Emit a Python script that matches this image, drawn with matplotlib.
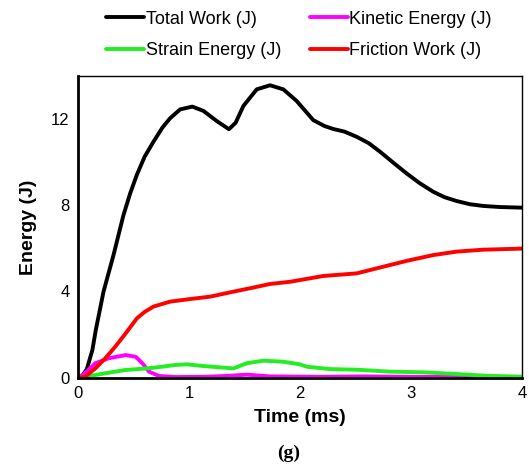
import numpy as np
import matplotlib.pyplot as plt

plt.rcParams['font.family'] = ['Liberation Sans', 'DejaVu Sans']

# time (ms) and energies (J)
t_total = [0, 0.04, 0.08, 0.13, 0.16, 0.23, 0.32, 0.41, 0.47, 0.53, 0.60, 0.68,
           0.76, 0.83, 0.92, 1.03, 1.13, 1.25, 1.36, 1.42, 1.49, 1.61, 1.73, 1.85,
           1.97, 2.12, 2.22, 2.30, 2.40, 2.51, 2.62, 2.72, 2.84, 2.96, 3.08, 3.20,
           3.30, 3.41, 3.53, 3.65, 3.80, 4.0]
total_work = [0, 0.1, 0.4, 1.29, 2.2, 3.99, 5.69, 7.55, 8.55, 9.41, 10.25, 10.95,
              11.6, 12.04, 12.45, 12.58, 12.38, 11.91, 11.53, 11.83, 12.61, 13.38, 13.57, 13.38,
              12.84, 11.95, 11.68, 11.54, 11.42, 11.18, 10.88, 10.49, 9.98, 9.48, 9.02, 8.63,
              8.38, 8.2, 8.05, 7.97, 7.92, 7.89]

t_kin = [0, 0.05, 0.095, 0.156, 0.275, 0.43, 0.52, 0.58, 0.64, 0.73, 0.88, 1.13,
         1.33, 1.52, 1.73, 2.2, 2.6, 3.0, 3.5, 4.0]
kinetic = [0, 0.15, 0.36, 0.67, 0.9, 1.05, 0.97, 0.67, 0.28, 0.08, 0.03, 0.04,
           0.08, 0.14, 0.06, 0.04, 0.06, 0.04, 0.03, 0.03]

t_strain = [0, 0.07, 0.15, 0.275, 0.43, 0.52, 0.68, 0.876, 0.98, 1.13, 1.28, 1.40,
            1.52, 1.67, 1.85, 2.0, 2.06, 2.27, 2.51, 2.81, 3.11, 3.41, 3.71, 4.0]
strain = [0, 0.05, 0.12, 0.23, 0.36, 0.39, 0.46, 0.59, 0.62, 0.54, 0.48, 0.43,
          0.67, 0.79, 0.74, 0.62, 0.51, 0.40, 0.37, 0.28, 0.25, 0.17, 0.08, 0.05]

t_fric = [0, 0.066, 0.156, 0.246, 0.336, 0.43, 0.53, 0.60, 0.68, 0.83, 1.01, 1.19,
          1.37, 1.55, 1.73, 1.91, 2.21, 2.51, 2.75, 2.96, 3.20, 3.41, 3.65, 4.0]
friction = [0, 0.05, 0.43, 0.9, 1.44, 2.06, 2.75, 3.05, 3.3, 3.53, 3.65, 3.76,
            3.96, 4.15, 4.35, 4.45, 4.72, 4.84, 5.15, 5.42, 5.69, 5.85, 5.94, 5.99]

fig = plt.figure(figsize=(5.29, 4.70), dpi=100)
ax = fig.add_axes([0.1474, 0.1964, 0.8394, 0.6419])

lw = 2.8
style = dict(lw=lw, solid_joinstyle='round', solid_capstyle='round')
l_tot, = ax.plot(t_total, total_work, color='black', label='Total Work (J)', **style)
l_kin, = ax.plot(t_kin, kinetic, color='#ff00ff', label='Kinetic Energy (J)', **style)
l_str, = ax.plot(t_strain, strain, color='#22ee22', label='Strain Energy (J)', **style)
l_fri, = ax.plot(t_fric, friction, color='#ff0000', label='Friction Work (J)', **style)

ax.set_xlim(0, 4)
ax.set_ylim(0, 14)
ax.set_xticks([0, 1, 2, 3, 4])
ax.set_yticks([0, 4, 8, 12])
ax.tick_params(length=0, labelsize=12, pad=6)
for s in ax.spines.values():
    s.set_linewidth(1.0)
ax.spines['left'].set_linewidth(2.0)
ax.spines['bottom'].set_linewidth(2.0)

ax.set_xlabel('Time (ms)', fontsize=14, fontweight='bold', labelpad=6)
ax.set_ylabel('Energy (J)', fontsize=14, fontweight='bold', labelpad=10)

# two rows: Total / Kinetic on top, Strain / Friction below
fig.legend([l_tot, l_str, l_kin, l_fri],
           [l.get_label() for l in (l_tot, l_str, l_kin, l_fri)],
           loc='upper center', bbox_to_anchor=(0.565, 1.012), ncol=2, frameon=False,
           fontsize=13, handlelength=2.1, handletextpad=0.1, columnspacing=1.6,
           labelspacing=0.8)

fig.text(0.545, 0.025, '(g)', fontsize=14, fontweight='bold',
         family='Liberation Serif', ha='center')

fig.savefig('out.png', dpi=100)
